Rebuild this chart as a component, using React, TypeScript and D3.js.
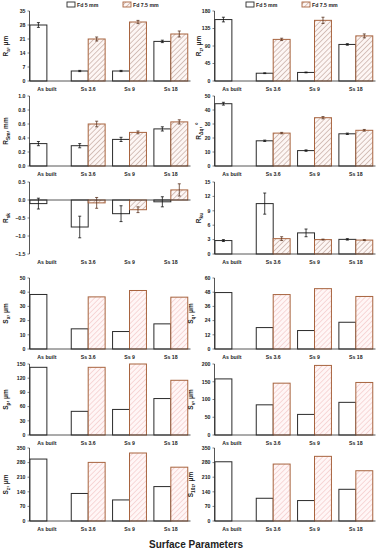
import React from 'react'
import * as d3 from 'd3'

const categories = ['As built', 'Ss 3.6', 'Ss 9', 'Ss 18']
const seriesNames = ['Fd 5 mm', 'Fd 7.5 mm']

// values; null = no bar
const raFd5 = [28, 5, 5, 19.8]
const raFd75 = [null, 21, 29.5, 23.5]
const raErr5 = [1.2, 0.3, 0.3, 0.6]
const raErr75 = [null, 1, 0.8, 1.5]

const rzFd5 = [158, 20, 22, 94]
const rzFd75 = [null, 107, 156, 116]
const rzErr5 = [6, 1, 1, 2]
const rzErr75 = [null, 3, 8, 5]

const rsmFd5 = [0.32, 0.29, 0.38, 0.53]
const rsmFd75 = [null, 0.6, 0.48, 0.63]
const rsmErr5 = [0.03, 0.03, 0.03, 0.03]
const rsmErr75 = [null, 0.04, 0.02, 0.03]

const rdqFd5 = [44.5, 18, 11, 23]
const rdqFd75 = [null, 23.5, 34.5, 25.5]
const rdqErr5 = [1, 0.5, 0.5, 0.5]
const rdqErr75 = [null, 0.5, 0.8, 0.6]

const rskFd5 = [-0.1, -0.75, -0.38, -0.05]
const rskFd75 = [null, -0.08, -0.27, 0.28]
const rskErr5 = [0.15, 0.3, 0.22, 0.14]
const rskErr75 = [null, 0.15, 0.08, 0.17]

const rkuFd5 = [2.8, 10.5, 4.4, 3.05]
const rkuFd75 = [null, 3.2, 3.0, 2.9]
const rkuErr5 = [0.2, 2.2, 0.8, 0.15]
const rkuErr75 = [null, 0.4, 0.1, 0.1]

const saFd5 = [38.4, 14.2, 12.3, 17.7]
const saFd75 = [null, 36.7, 41.2, 36.5]
const sqFd5 = [47.7, 18.1, 15.6, 22.6]
const sqFd75 = [null, 46, 51, 44.4]
const spFd5 = [143, 50, 54, 77]
const spFd75 = [null, 143, 150, 115.6]
const svFd5 = [158, 85, 58, 92]
const svFd75 = [null, 146, 196, 148]
const szFd5 = [297, 132, 101, 165]
const szFd75 = [null, 281, 326, 258]
const s10zFd5 = [284, 109, 98, 152]
const s10zFd75 = [null, 273, 310, 241]

const raTicks = [0, 7, 14, 21, 28, 35]
const rzTicks = [0, 45, 90, 135, 180]
const rsmTicks = [0, 0.2, 0.4, 0.6, 0.8, 1.0]
const rdqTicks = [0, 10, 20, 30, 40, 50]
const rskTicks = [-1.5, -1.0, -0.5, 0, 0.5]
const rkuTicks = [0, 3, 6, 9, 12, 15]
const saTicks = [0, 10, 20, 30, 40, 50]
const sqTicks = [0, 12, 24, 36, 48, 60]
const spTicks = [0, 30, 60, 90, 120, 150]
const svTicks = [0, 50, 100, 150, 200]
const szTicks = [0, 70, 140, 210, 280, 350]

type Panel = {
  sym: string
  sub: string
  unit: string
  fd5: (number | null)[]
  fd75: (number | null)[]
  err5?: (number | null)[]
  err75?: (number | null)[]
  ticks: number[]
  fmt: (v: number) => string
  light?: boolean
}

const int = (v: number) => d3.format('d')(v)
const one = (v: number) => d3.format('.1f')(v)

const panels: Panel[] = [
  { sym: 'R', sub: 'a', unit: ', μm', fd5: raFd5, fd75: raFd75, err5: raErr5, err75: raErr75, ticks: raTicks, fmt: int },
  { sym: 'R', sub: 'z', unit: ', μm', fd5: rzFd5, fd75: rzFd75, err5: rzErr5, err75: rzErr75, ticks: rzTicks, fmt: int },
  { sym: 'R', sub: 'Sm', unit: ', mm', fd5: rsmFd5, fd75: rsmFd75, err5: rsmErr5, err75: rsmErr75, ticks: rsmTicks, fmt: one },
  { sym: 'R', sub: 'Δq', unit: ', °', fd5: rdqFd5, fd75: rdqFd75, err5: rdqErr5, err75: rdqErr75, ticks: rdqTicks, fmt: int },
  { sym: 'R', sub: 'sk', unit: '', fd5: rskFd5, fd75: rskFd75, err5: rskErr5, err75: rskErr75, ticks: rskTicks, fmt: one },
  { sym: 'R', sub: 'ku', unit: '', fd5: rkuFd5, fd75: rkuFd75, err5: rkuErr5, err75: rkuErr75, ticks: rkuTicks, fmt: int },
  { sym: 'S', sub: 'a', unit: ', μm', fd5: saFd5, fd75: saFd75, ticks: saTicks, fmt: int, light: true },
  { sym: 'S', sub: 'q', unit: ', μm', fd5: sqFd5, fd75: sqFd75, ticks: sqTicks, fmt: int, light: true },
  { sym: 'S', sub: 'p', unit: ', μm', fd5: spFd5, fd75: spFd75, ticks: spTicks, fmt: int, light: true },
  { sym: 'S', sub: 'v', unit: ', μm', fd5: svFd5, fd75: svFd75, ticks: svTicks, fmt: int, light: true },
  { sym: 'S', sub: 'z', unit: ', μm', fd5: szFd5, fd75: szFd75, ticks: szTicks, fmt: int, light: true },
  { sym: 'S', sub: '10z', unit: ', μm', fd5: s10zFd5, fd75: s10zFd75, ticks: szTicks, fmt: int, light: true },
]

// row extents in px (top = max tick, bottom = min tick)
const rows = [
  { top: 11, bottom: 81 },
  { top: 96, bottom: 166 },
  { top: 182, bottom: 254 },
  { top: 278, bottom: 349 },
  { top: 364, bottom: 435 },
  { top: 448, bottom: 521 },
]

const W = 378
const H = 550
const FONT = '"Liberation Sans", Arial, sans-serif'
const DARK = '#2b2b2b'
const BROWN = '#a8643f'

function PanelChart({ p, idx }: { p: Panel; idx: number }) {
  const col = idx % 2
  const row = rows[Math.floor(idx / 2)]
  const ax = 29.5 + col * 185
  const axEnd = ax + 161
  const lowerRows = idx >= 6
  const labelX = col === 0 ? 8 : lowerRows ? 193 : 201

  const x = d3.scaleBand<string>().domain(categories).range([ax - 7, ax + 165.7]).paddingInner(0.18).paddingOuter(0.18)
  const xs = d3.scaleBand<string>().domain(seriesNames).range([0, x.bandwidth()])
  const y = d3.scaleLinear().domain(d3.extent(p.ticks) as [number, number]).range([row.bottom, row.top])
  const y0 = y(Math.max(0, p.ticks[0]))
  const hatch = p.light ? 'url(#hatchLight)' : 'url(#hatchDark)'

  const bars: React.ReactNode[] = []
  categories.forEach((c, i) => {
    const defs = [
      { s: seriesNames[0], v: p.fd5[i], e: p.err5?.[i] },
      { s: seriesNames[1], v: p.fd75[i], e: p.err75?.[i] },
    ]
    defs.forEach((d, j) => {
      if (d.v == null) return
      const bx = (x(c) ?? 0) + (xs(d.s) ?? 0)
      const bw = xs.bandwidth()
      const yv = y(d.v)
      bars.push(
        <rect key={`b${i}${j}`} x={bx} y={Math.min(yv, y0)} width={bw} height={Math.abs(y0 - yv)}
          fill={j === 0 ? '#fff' : hatch} stroke={j === 0 ? DARK : BROWN} strokeWidth={1} />
      )
      if (d.e != null) {
        const cx = bx + bw / 2
        const ec = j === 0 ? '#111' : '#5b3320'
        bars.push(
          <g key={`e${i}${j}`} stroke={ec} strokeWidth={0.8}>
            <line x1={cx} x2={cx} y1={y(d.v - d.e)} y2={y(d.v + d.e)} />
            <line x1={cx - 1.5} x2={cx + 1.5} y1={y(d.v - d.e)} y2={y(d.v - d.e)} />
            <line x1={cx - 1.5} x2={cx + 1.5} y1={y(d.v + d.e)} y2={y(d.v + d.e)} />
          </g>
        )
      }
    })
  })

  return (
    <g fontFamily={FONT}>
      {bars}
      {/* y axis */}
      <line x1={ax} x2={ax} y1={row.top} y2={row.bottom} stroke={DARK} strokeWidth={0.8} />
      {p.ticks.map(t => (
        <g key={t}>
          <line x1={ax - 2} x2={ax} y1={y(t)} y2={y(t)} stroke={DARK} strokeWidth={0.6} />
          <text x={ax - 4} y={y(t) + 1.8} textAnchor="end" fontSize={5.2} fontWeight={700} fill="#222">{p.fmt(t)}</text>
        </g>
      ))}
      {/* x axis at zero */}
      <line x1={ax} x2={axEnd} y1={y0} y2={y0} stroke={DARK} strokeWidth={0.8} />
      {categories.map(c => (
        <text key={c} x={(x(c) ?? 0) + x.bandwidth() / 2} y={row.bottom + 10} textAnchor="middle"
          fontSize={5.2} fontWeight={700} fill="#222">{c}</text>
      ))}
      {/* y label */}
      <text transform={`translate(${labelX},${(row.top + row.bottom) / 2}) rotate(-90)`} textAnchor="middle"
        fontSize={6.5} fontWeight={700} fill="#222">
        {p.sym}
        <tspan fontSize={4.8} dy={1.8}>{p.sub}</tspan>
        <tspan dy={-1.8}>{p.unit}</tspan>
      </text>
    </g>
  )
}

function Legend({ x0 }: { x0: number }) {
  return (
    <g fontFamily={FONT} fontSize={5.2} fontWeight={700} fill="#222">
      <rect x={x0} y={2} width={8} height={5} fill="#fff" stroke={DARK} strokeWidth={0.9} />
      <text x={x0 + 10} y={6.6}>{seriesNames[0]}</text>
      <rect x={x0 + 56} y={2} width={8} height={5} fill="url(#hatchDark)" stroke={BROWN} strokeWidth={0.9} />
      <text x={x0 + 66} y={6.6}>{seriesNames[1]}</text>
    </g>
  )
}

export default function App() {
  return (
    <svg width={W} height={H} viewBox={`0 0 ${W} ${H}`}
      style={{ position: 'absolute', left: 0, top: 0, background: '#fff' }}>
      <defs>
        <pattern id="hatchDark" patternUnits="userSpaceOnUse" width={3.6} height={3.6} patternTransform="rotate(45)">
          <rect width={3.6} height={3.6} fill="#fdf6f4" />
          <line x1={0} y1={0} x2={0} y2={3.6} stroke="#a88276" strokeWidth={0.9} />
        </pattern>
        <pattern id="hatchLight" patternUnits="userSpaceOnUse" width={3.6} height={3.6} patternTransform="rotate(45)">
          <rect width={3.6} height={3.6} fill="#fff6f6" />
          <line x1={0} y1={0} x2={0} y2={3.6} stroke="#eeb3b3" strokeWidth={0.9} />
        </pattern>
      </defs>
      <rect width={W} height={H} fill="#fff" />
      <Legend x0={67} />
      <Legend x0={246} />
      {panels.map((p, i) => <PanelChart key={i} p={p} idx={i} />)}
      <text x={196} y={548} textAnchor="middle" fontFamily={FONT} fontSize={10} fontWeight={700} fill="#222">
        Surface Parameters
      </text>
    </svg>
  )
}
